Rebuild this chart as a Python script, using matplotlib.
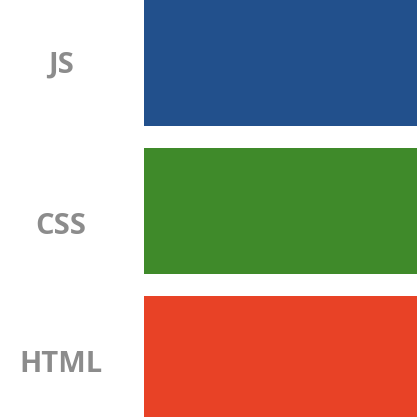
import matplotlib.pyplot as plt
from matplotlib.transforms import ScaledTranslation

# languages, bottom to top
langs = ['HTML', 'CSS', 'JS']
values = [100, 100, 100]
colors = ['#e84226', '#3f8a2a', '#22508c']

fig = plt.figure(figsize=(4.17, 4.17), dpi=100)
ax = fig.add_axes([144 / 417, 0, 1 - 144 / 417, 1])

ax.barh(range(len(langs)), values, height=0.85, color=colors)
ax.set_xlim(0, 100)
ax.set_ylim(-0.393, 2.425)

ax.set_yticks(range(len(langs)))
ax.set_yticklabels(langs, fontfamily='Open Sans', fontweight='bold',
                   fontsize=21, color='#8c8c8c', ha='center')
ax.tick_params(axis='y', length=0, pad=60)
ax.set_xticks([])
for s in ax.spines.values():
    s.set_visible(False)

# label offsets in pixels (reference labels are not exactly centred)
shifts = [-2, -12, 1]
for lab, dy in zip(ax.get_yticklabels(), shifts):
    lab.set_transform(lab.get_transform() + ScaledTranslation(0, dy / 100, fig.dpi_scale_trans))

fig.savefig('out.png', dpi=100)
